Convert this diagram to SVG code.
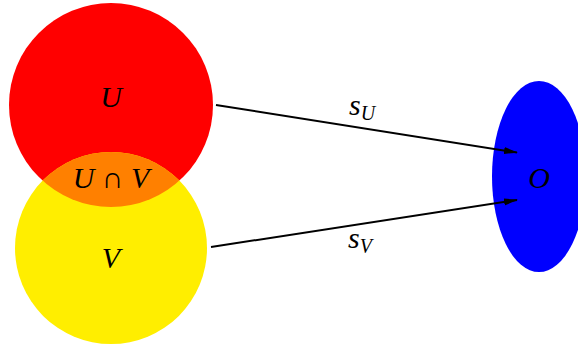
<svg xmlns="http://www.w3.org/2000/svg" width="578" height="347" viewBox="0 0 578 347">
<style>
.t{font-family:"Liberation Serif","DejaVu Serif",serif;font-style:italic;fill:#000;}
.m{font-size:30px;text-anchor:middle;}
.e{stroke:#000;stroke-width:2;fill:none;marker-end:url(#ah);}
</style>
<defs>
<marker id="ah" markerWidth="14" markerHeight="8" refX="13" refY="4" orient="auto" markerUnits="userSpaceOnUse">
<path d="M0,0.5 L14,4 L0,7.5 Z" fill="#000"/>
</marker>
<clipPath id="cu"><circle cx="111" cy="105" r="102"/></clipPath>
</defs>
<g id="U"><circle cx="111" cy="105" r="102" fill="#ff0000"/></g>
<g id="V"><circle cx="111" cy="248" r="96" fill="#ffee00"/></g>
<g id="UV"><circle cx="111" cy="248" r="96" fill="#ff8000" clip-path="url(#cu)"/></g>
<g id="O"><ellipse cx="539" cy="176.5" rx="47" ry="95.5" fill="#0000ff"/></g>
<g id="edges">
<line class="e" x1="216" y1="105" x2="517" y2="152.5"/>
<line class="e" x1="211" y1="247" x2="517" y2="200"/>
</g>
<g id="labels">
<text class="t m" x="111" y="107">U</text>
<text class="t m" x="111" y="268">V</text>
<text class="t m" x="111" y="188">U <tspan font-style="normal">∩</tspan> V</text>
<text class="t m" x="539" y="188">O</text>
<text class="t" x="349" y="115" font-size="30">s<tspan font-size="20" dy="5">U</tspan></text>
<text class="t" x="348" y="248" font-size="30">s<tspan font-size="20" dy="5">V</tspan></text>
</g>
</svg>
